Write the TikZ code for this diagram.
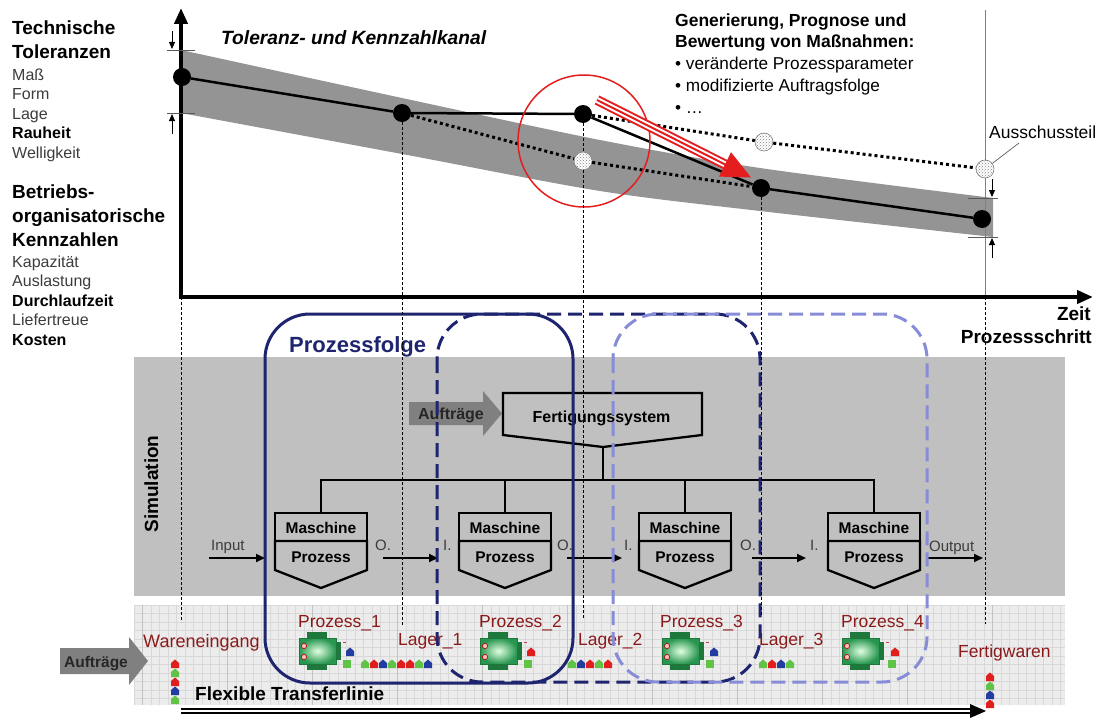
\documentclass[tikz,border=0pt]{standalone}
\usepackage{fontspec}
\setmainfont{Liberation Sans}
\usetikzlibrary{patterns,arrows.meta,calc}

\definecolor{navy}{RGB}{30,36,110}
\definecolor{lavender}{RGB}{135,140,215}
\definecolor{simgray}{RGB}{192,192,192}
\definecolor{bandgray}{RGB}{148,148,148}
\definecolor{darkred}{RGB}{140,25,25}
\definecolor{txtgray}{RGB}{60,60,60}
\definecolor{arrowgray}{RGB}{128,128,128}
\definecolor{stripbg}{RGB}{236,236,236}
\definecolor{gridminor}{RGB}{216,216,216}
\definecolor{gridmajor}{RGB}{195,195,195}
\definecolor{partred}{RGB}{225,30,30}
\definecolor{partgreen}{RGB}{95,195,70}
\definecolor{partblue}{RGB}{35,60,160}
\definecolor{machgreen}{RGB}{40,150,80}
\definecolor{machdark}{RGB}{30,120,60}
\definecolor{alarm}{RGB}{228,30,30}

\newcommand{\setfs}[1]{\fontsize{#1}{#1}\selectfont}

\tikzset{
  bigb/.style={font=\setfs{19}\bfseries, inner sep=0pt, anchor=base west},
  small/.style={font=\setfs{16}, text=txtgray, inner sep=0pt, anchor=base west},
  smallb/.style={font=\setfs{16}\bfseries, inner sep=0pt, anchor=base west},
  hb/.style={font=\setfs{17.5}\bfseries, inner sep=0pt, anchor=base west},
  hn/.style={font=\setfs{17.2}, inner sep=0pt, anchor=base west},
  dot/.style={circle, fill=black, inner sep=0pt, minimum size=18pt},
  ghost/.style={circle, draw=gray, line width=0.6pt, inner sep=0pt, minimum size=18pt,
    preaction={fill=white}, pattern=crosshatch dots, pattern color=gray},
  trend/.style={line width=2.5pt},
  dotline/.style={line width=3pt, dash pattern=on 3pt off 3pt},
  guide/.style={black, line width=0.7pt, dash pattern=on 3pt off 2pt},
  axis/.style={line width=4pt, line join=miter},
  tick/.style={gray!70!black, line width=0.8pt},
  smallarrow/.style={line width=0.8pt, -{Triangle[length=7pt,width=6pt]}},
  boxline/.style={line width=2.3pt, line join=miter},
  boxtext/.style={font=\setfs{15.5}\bfseries, inner sep=0pt, anchor=base},
  flow/.style={line width=1.8pt, -{Triangle[length=9pt,width=8pt]}},
  flowtext/.style={font=\setfs{15}, text=txtgray, inner sep=0pt, anchor=base west},
  station label/.style={font=\setfs{17.5}, text=darkred, inner sep=0pt, anchor=base west},
  minorgrid/.style={gridminor, line width=0.5pt},
  majorgrid/.style={gridmajor, line width=0.8pt},
  maschbox/.pic={
    \draw[boxline] (-46,0) rectangle (46,28);
    \draw[boxline] (-46,28) -- (46,28) -- (46,57) -- (0,75) -- (-46,57) -- cycle;
    \node[boxtext] at (0,20) {Maschine};
    \node[boxtext] at (0,49) {Prozess};
  },
  station/.pic={
    \fill[machdark] (-12,-19) rectangle (8,-12);
    \fill[machdark] (-12,12) rectangle (8,19);
    \fill[machdark] (16,-9) rectangle (22,9);
    \shade[inner color=white!80!green!60!white, outer color=machgreen] (-20,-13) rectangle (17,13);
    \draw[machdark, line width=0.8pt] (-20,-13) rectangle (17,13);
    \filldraw[fill=red!25, draw=red!70!black, line width=0.6pt] (-15,-5) circle (2.6pt);
    \filldraw[fill=red!25, draw=red!70!black, line width=0.6pt] (-15,6) circle (2.6pt);
    \draw[red!50!gray, line width=0.6pt] (24,-9) -- (27,-9);
  },
  part/.pic={
    \fill[#1] (-4,4) -- (-4,-1) -- (0,-4.5) -- (4,-1) -- (4,4) -- cycle;
  },
  block/.pic={
    \fill[#1] (-4,-4) rectangle (4,4);
  }
}

\begin{document}
\begin{tikzpicture}[x=1pt,y=-1pt]
\useasboundingbox (0,0) rectangle (1099,717);

% ---------------- upper chart: tolerance and key-figure channel ----------------
\fill[bandgray] plot[smooth] coordinates {(181,50) (402,98) (600,140) (760,168) (993,198)}
  -- plot[smooth] coordinates {(993,237) (760,211) (600,191) (402,154) (181,113)} -- cycle;

% time line at the last process step
\coordinate (vt) at (985,10);
\coordinate (vb) at (985,297);
\draw[gray, line width=0.8pt] (vt) -- (vb);

% axes
\coordinate (o) at (181,297);
\coordinate (ytop) at (181,8);
\coordinate (xend) at (1093,297);
\draw[axis, {Triangle[length=16pt,width=13pt]}-{Triangle[length=16pt,width=13pt]}] (ytop) -- (o) -- (xend);

% tolerance limits, left
\draw[tick] (167,50) -- (195,50);
\draw[tick] (167,113) -- (195,113);
\coordinate (la1) at (172,31); \coordinate (la2) at (172,49);
\coordinate (la3) at (172,134); \coordinate (la4) at (172,114);
\draw[smallarrow] (la1) -- (la2);
\draw[smallarrow] (la3) -- (la4);

% tolerance limits, right
\draw[tick] (968,198) -- (998,198);
\draw[tick] (968,237) -- (998,237);
\coordinate (ra1) at (992,179); \coordinate (ra2) at (992,197);
\coordinate (ra3) at (992,258); \coordinate (ra4) at (992,238);
\draw[smallarrow] (ra1) -- (ra2);
\draw[smallarrow] (ra3) -- (ra4);

% measured points and forecast points
\node[dot] (p0) at (182,77) {};
\node[dot] (p1) at (402,113) {};
\node[dot] (p2) at (583,114) {};
\node[dot] (p3) at (761,188) {};
\node[dot] (p4) at (982,219) {};
\node[ghost] (q1) at (583,161) {};
\node[ghost] (q2) at (764,142) {};
\node[ghost] (q3) at (985,169) {};

\draw[trend] (p0) -- (p1) -- (p2) -- (p3) -- (p4);
\draw[dotline] (p1) -- (q1);
\draw[dotline] (q1) -- (p3);
\draw[dotline] (p2) -- (q2);
\draw[dotline] (q2) -- (q3);

% deviation marker and corrective action arrow
\node[circle, draw=alarm, line width=1.5pt, minimum size=132pt, inner sep=0pt] (focus) at (584,141) {};
\coordinate (rs) at (597,100);
\coordinate (rb) at (725,164.4);
\draw[alarm, line width=10pt] (rs) -- (rb);
\draw[white, line width=6pt] (rs) -- (rb);
\draw[alarm, line width=2pt] (rs) -- (rb);
\fill[alarm] (719,176.6) -- (751,177.5) -- (731,152.2) -- cycle;

% chart texts
\node[font=\setfs{19.2}\bfseries\itshape, inner sep=0pt, anchor=base west] (kanal) at (221,45) {Toleranz- und Kennzahlkanal};
\node[hb] (gen1) at (675,27) {Generierung, Prognose und};
\node[hb] (gen2) at (675,48) {Bewertung von Maßnahmen:};
\node[hn] (gen3) at (675,69) {\textbullet\ veränderte Prozessparameter};
\node[hn] (gen4) at (675,91) {\textbullet\ modifizierte Auftragsfolge};
\node[hn] (gen5) at (675,113) {\textbullet\ …};

\node[font=\setfs{17.5}, inner sep=0pt, anchor=base west] (aus) at (989,138) {Ausschussteil};
\coordinate (ausl) at (1019,143);
\draw[gray!70!black, line width=0.7pt] (q3) -- (ausl);

\node[bigb, anchor=base east] (zeit) at (1091,320) {Zeit};
\node[bigb, anchor=base east] (schritt) at (1092,343) {Prozessschritt};

% left legend
\node[bigb] (l1) at (12,35) {Technische};
\node[bigb] (l2) at (12,59) {Toleranzen};
\node[small] (l3) at (12,80) {Maß};
\node[small] (l4) at (12,99.5) {Form};
\node[small] (l5) at (12,119) {Lage};
\node[smallb] (l6) at (12,138.5) {Rauheit};
\node[small] (l7) at (12,158) {Welligkeit};
\node[bigb] (l8) at (12,198) {Betriebs-};
\node[bigb] (l9) at (12,222) {organisatorische};
\node[bigb] (l10) at (12,246.5) {Kennzahlen};
\node[small] (l11) at (12,267) {Kapazität};
\node[small] (l12) at (12,286) {Auslastung};
\node[smallb] (l13) at (12,306) {Durchlaufzeit};
\node[small] (l14) at (12,325) {Liefertreue};
\node[smallb] (l15) at (12,345) {Kosten};

% ---------------- simulation layer ----------------
\fill[simgray] (134,357) rectangle (1065,596);
\node[rotate=90, font=\setfs{19}\bfseries, inner sep=0pt, anchor=base] (sim) at (158,484) {Simulation};

% orders entering the manufacturing system
\fill[arrowgray] (409,402) -- (483,402) -- (483,391) -- (502,413.5) -- (483,436) -- (483,425) -- (409,425) -- cycle;
\node[font=\setfs{16}\bfseries, inner sep=0pt, anchor=base, text=black!85] (auf1) at (451,419) {Aufträge};

\draw[boxline] (503,393) -- (702,393) -- (702,435) -- (603,447) -- (503,435) -- cycle;
\node[boxtext, font=\setfs{16}\bfseries] (fs) at (601.5,422) {Fertigungssystem};
\coordinate (fsb) at (603,447);
\coordinate (bus) at (603,480);

\coordinate (m1) at (321,513);
\coordinate (m2) at (505,513);
\coordinate (m3) at (685,513);
\coordinate (m4) at (874,513);
\draw[boxline] (fsb) -- (bus);
\draw[boxline] (m1) -- (m1 |- bus) -- (m4 |- bus) -- (m4);
\draw[boxline] (m2) -- (m2 |- bus);
\draw[boxline] (m3) -- (m3 |- bus);
\pic at (m1) {maschbox};
\pic at (m2) {maschbox};
\pic at (m3) {maschbox};
\pic at (m4) {maschbox};

% material flow between the machines
\coordinate (f0a) at (209,558); \coordinate (f0b) at (265,558);
\coordinate (f1a) at (383,558); \coordinate (f1b) at (438,558);
\coordinate (f2a) at (567,558); \coordinate (f2b) at (622,558);
\coordinate (f3a) at (752,558); \coordinate (f3b) at (806,558);
\coordinate (f4a) at (928,558); \coordinate (f4b) at (983,558);
\draw[flow] (f0a) -- (f0b);
\draw[flow] (f1a) -- (f1b);
\draw[flow] (f2a) -- (f2b);
\draw[flow] (f3a) -- (f3b);
\draw[flow] (f4a) -- (f4b);
\node[flowtext] at (211,550) {Input};
\node[flowtext] at (375,550) {O.};
\node[flowtext] at (443,550) {I.};
\node[flowtext] at (557,550) {O.};
\node[flowtext] at (624,550) {I.};
\node[flowtext] at (740,550) {O.};
\node[flowtext] at (810,550) {I.};
\node[flowtext] at (929,551) {Output};

% ---------------- transfer line layer ----------------
\fill[stripbg] (134,605) rectangle (1065,705);
\foreach \k in {0,...,109} \draw[minorgrid] ({134+8.5*\k},605) -- ({134+8.5*\k},705);
\foreach \k in {0,...,11} \draw[minorgrid] (134,{605+8.5*\k}) -- (1065,{605+8.5*\k});
\foreach \k in {0,...,10} \draw[majorgrid] ({142+85*\k},605) -- ({142+85*\k},705);

% incoming orders
\fill[arrowgray] (60,648) -- (129,648) -- (129,637) -- (148,661) -- (129,685) -- (129,674) -- (60,674) -- cycle;
\node[font=\setfs{15.5}\bfseries, inner sep=0pt, anchor=base, text=black!85] (auf2) at (96,667) {Aufträge};

\node[station label, font=\setfs{18}] (we) at (143,647) {Wareneingang};
\node[station label] (pz1) at (298,627) {Prozess\_1};
\node[station label] (lg1) at (398,645) {Lager\_1};
\node[station label] (pz2) at (479,627) {Prozess\_2};
\node[station label] (lg2) at (578,645) {Lager\_2};
\node[station label] (pz3) at (660,627) {Prozess\_3};
\node[station label] (lg3) at (759,645) {Lager\_3};
\node[station label] (pz4) at (841,627) {Prozess\_4};
\node[station label] (fw) at (958,657) {Fertigwaren};
\node[font=\setfs{19}\bfseries, inner sep=0pt, anchor=base west] (ftl) at (195,700) {Flexible Transferlinie};

\pic at (319,651) {station};
\pic at (500,651) {station};
\pic at (682,651) {station};
\pic at (862,651) {station};

% parts in process and in the buffers
\pic at (350,652) {part=partblue};
\pic at (347,664) {block=partgreen};
\foreach \c [count=\i from 0] in {partgreen,partred,partblue,partgreen,partred,partred,partgreen,partblue}
  \pic at ({365+9*\i},664) {part=\c};
\pic at (531,652) {part=partred};
\pic at (528,664) {block=partgreen};
\foreach \c [count=\i from 0] in {partgreen,partblue,partred,partgreen,partred}
  \pic at ({572+9*\i},664) {part=\c};
\pic at (714,652) {part=partblue};
\pic at (710,664) {block=partgreen};
\foreach \c [count=\i from 0] in {partgreen,partred,partblue,partgreen}
  \pic at ({763+9*\i},664) {part=\c};
\pic at (895,652) {part=partred};
\pic at (892,664) {block=partgreen};
\foreach \c [count=\i from 0] in {partred,partgreen,partred,partblue,partgreen}
  \pic at (175,{664+9*\i}) {part=\c};
\foreach \c [count=\i from 0] in {partred,partgreen,partblue,partred}
  \pic at (990,{677+9*\i}) {part=\c};

% process sequence windows
\draw[navy, line width=3pt, rounded corners=45pt] (265,314) rectangle (573,683);
\draw[navy, line width=3pt, dash pattern=on 14pt off 7pt, rounded corners=45pt] (437,314) rectangle (760,682);
\draw[lavender, line width=3pt, dash pattern=on 14pt off 7pt, rounded corners=45pt] (613,314) rectangle (927,682);
\node[font=\setfs{22}\bfseries, text=navy, inner sep=0pt, anchor=base west] (pf) at (289,352) {Prozessfolge};

% time axis of the transfer line
\coordinate (bs) at (181,711);
\coordinate (be) at (970,711);
\coordinate (bt) at (986,711);
\draw[line width=1.4pt] ($(bs)+(0,-2)$) -- ($(be)+(0,-2)$);
\draw[line width=1.4pt] ($(bs)+(0,2)$) -- ($(be)+(0,2)$);
\fill (970,704) -- (bt) -- (970,718) -- cycle;

% vertical guides through the process steps
\coordinate (g0) at (181,622);
\coordinate (g1) at (402,626);
\coordinate (g2) at (583,620);
\coordinate (g3) at (761,615);
\coordinate (g4) at (985,624);
\draw[guide] (o) -- (g0);
\draw[guide] (p1) -- (g1);
\draw[guide] (p2) -- (q1);
\draw[guide] (q1) -- (g2);
\draw[guide] (p3) -- (g3);
\draw[guide] (vb) -- (g4);
\end{tikzpicture}
\end{document}
